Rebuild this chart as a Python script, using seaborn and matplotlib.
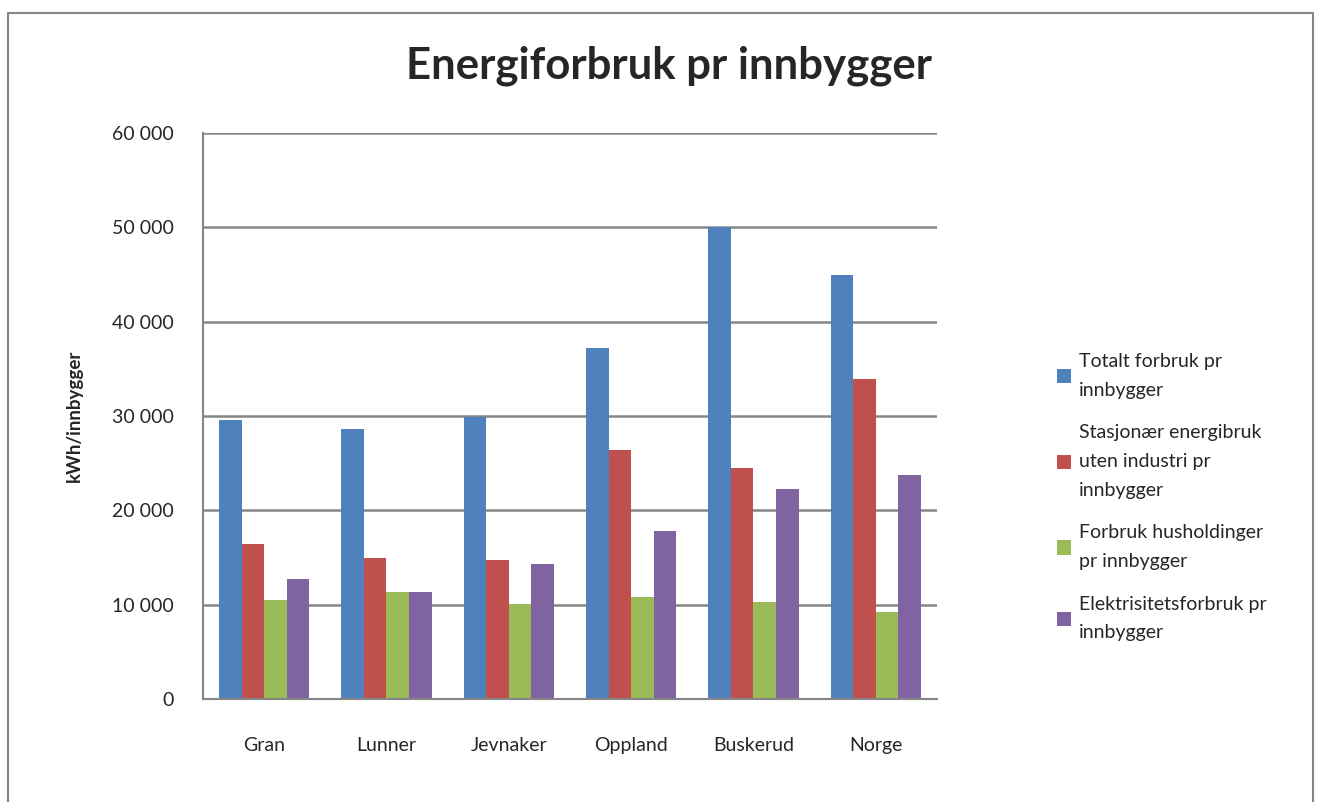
import pandas as pd
import numpy as np
import matplotlib.pyplot as plt
import seaborn as sns
from matplotlib.lines import Line2D
from matplotlib.ticker import FuncFormatter, FixedLocator

# data
regions = ['Gran', 'Lunner', 'Jevnaker', 'Oppland', 'Buskerud', 'Norge']
series = ['Totalt forbruk pr\ninnbygger',
          'Stasjonær energibruk\nuten industri pr\ninnbygger',
          'Forbruk husholdinger\npr innbygger',
          'Elektrisitetsforbruk pr\ninnbygger']
totalt = [29600, 28600, 29850, 37200, 50000, 44900]
stasjonaer = [16450, 14950, 14750, 26350, 24500, 33900]
husholdning = [10450, 11300, 10050, 10850, 10250, 9250]
elektrisitet = [12750, 11300, 14300, 17800, 22300, 23700]
colors = ['#4F81BD', '#C0504D', '#9BBB59', '#8064A2']

df = pd.DataFrame({
    'Region': regions * 4,
    'Serie': np.repeat(series, len(regions)),
    'Verdi': totalt + stasjonaer + husholdning + elektrisitet,
})

sns.set_style('white')
plt.rcParams['font.family'] = ['Lato', 'DejaVu Sans']

fig = plt.figure(figsize=(13.24, 8.02), dpi=100)
ax = fig.add_axes([0.1533, 0.1284, 0.7077 - 0.1533, 0.8342 - 0.1284])

sns.barplot(data=df, x='Region', y='Verdi', hue='Serie', palette=colors,
            saturation=1, width=0.74, linewidth=0, ax=ax, errorbar=None)

grey = '#868686'
ax.set_ylim(0, 60000)
ax.set_xlim(-0.5, 5.5)
ax.set_yticks(range(0, 60001, 10000))
ax.yaxis.set_major_formatter(FuncFormatter(lambda v, p: f'{int(v):,}'.replace(',', ' ')))
ax.yaxis.grid(True, color=grey, linewidth=1.8)
ax.set_axisbelow(True)
for s in ['top', 'right']:
    ax.spines[s].set_visible(False)
for s in ['left', 'bottom']:
    ax.spines[s].set_color(grey)
    ax.spines[s].set_linewidth(1.5)
ax.tick_params(axis='y', length=7, width=1.5, color=grey, pad=14, labelsize=14)
ax.tick_params(axis='x', which='major', length=0, pad=27, labelsize=14)
ax.xaxis.set_minor_locator(FixedLocator(np.arange(-0.5, 6, 1)))
ax.tick_params(axis='x', which='minor', length=7, width=1.5, color=grey, direction='out')
ax.set_xlabel('')
ax.set_ylabel('kWh/innbygger', fontsize=13.5, fontweight='bold', labelpad=21)

fig.text(0.505, 0.918, 'Energiforbruk pr innbygger', ha='center', va='center',
         fontsize=31.5, fontweight='bold')

ax.legend_.remove()
handles, labels = ax.get_legend_handles_labels()
leg = fig.legend(handles, labels, loc='center left', bbox_to_anchor=(0.785, 0.38),
                 frameon=False, fontsize=14, handlelength=0.75, handleheight=0.75,
                 handletextpad=0.4, labelspacing=1.3)
for t in leg.get_texts():
    t.set_linespacing(1.85)

# outer chart frame
fig.add_artist(Line2D([0.006, 0.006], [0, 0.984], color=grey, linewidth=1.5, transform=fig.transFigure))
fig.add_artist(Line2D([0.006, 0.992], [0.984, 0.984], color=grey, linewidth=1.5, transform=fig.transFigure))
fig.add_artist(Line2D([0.992, 0.992], [0, 0.984], color=grey, linewidth=1.5, transform=fig.transFigure))

fig.savefig('out.png', dpi=100)
